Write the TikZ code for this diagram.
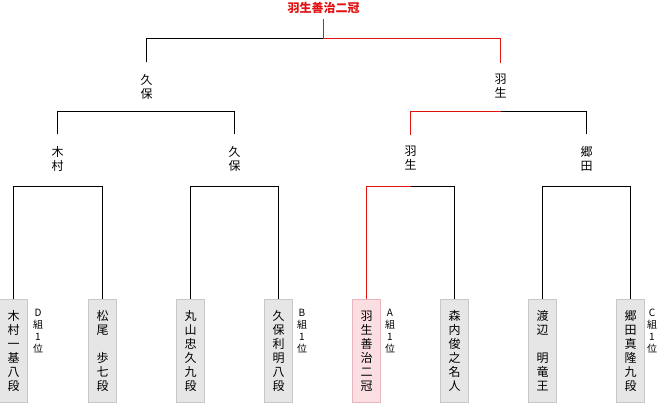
\documentclass[tikz,border=0pt]{standalone}
\usepackage{fontspec}
\setmainfont{Noto Sans CJK JP}
\usepackage{tikz}
\definecolor{winred}{RGB}{226,18,18}
\definecolor{boxgray}{RGB}{230,230,230}
\definecolor{boxline}{RGB}{200,200,200}
\definecolor{boxpink}{RGB}{250,222,225}
\definecolor{pinkline}{RGB}{232,182,188}

% stack the characters of #1 one under another
\makeatletter
\newcommand\tate[1]{\tate@first#1\relax}
\def\tate@first#1{#1\tate@rest}
\def\tate@rest#1{\ifx#1\relax\else\\#1\expandafter\tate@rest\fi}
\makeatother

\tikzset{
  leafbox/.style={draw=boxline, fill=boxgray, line width=0.75pt, anchor=north,
    minimum width=21pt, minimum height=77.25pt, inner sep=0pt, align=center,
    font=\fontsize{9}{10.5}\selectfont},
  champbox/.style={leafbox, draw=pinkline, fill=boxpink},
  winner/.style={align=center, inner xsep=0pt, inner ysep=8.5pt,
    font=\fontsize{9}{10.5}\selectfont},
  rankbox/.style={anchor=north, align=center, inner sep=0pt,
    font=\fontsize{7.5}{9}\selectfont},
  bracket/.style={line width=0.75pt},
}

\begin{document}
\begin{tikzpicture}[x=0.75pt, y=-0.75pt]
  \useasboundingbox (0,0) rectangle (660,403);

  % Players
  \foreach \n/\xx/\sty/\who in {
    1/13.5/leafbox/木村一基八段,
    2/102.5/leafbox/松尾　歩七段,
    3/190.5/leafbox/丸山忠久九段,
    4/278.5/leafbox/久保利明八段,
    5/366.5/champbox/羽生善治二冠,
    6/454.5/leafbox/森内俊之名人,
    7/542.5/leafbox/渡辺　明竜王,
    8/630.5/leafbox/郷田真隆九段
  }{
    \node[\sty] (leaf\n) at (\xx,299) {\expandafter\tate\expandafter{\who}};
  }

  % Group ranks
  \foreach \g/\xx in {D/38, B/302, A/390, C/652}{
    \node[rankbox] (rank\g) at (\xx,309) {\expandafter\tate\expandafter{\g 組1位}};
  }

  % Winners
  \node[winner] (kimura) at (57.5,158.5) {\tate{木村}};
  \node[winner] (kuboQ) at (234.5,158.5) {\tate{久保}};
  \node[winner] (habuQ) at (410.5,158.5) {\tate{羽生}};
  \node[winner] (goda) at (586.5,158.5) {\tate{郷田}};
  \node[winner] (kuboS) at (146.5,86.5) {\tate{久保}};
  \node[winner] (habuS) at (500.5,86.5) {\tate{羽生}};
  \node[text=winred, font=\bfseries\fontsize{9}{10.5}\selectfont,
    inner ysep=4pt] (champ) at (323.5,8) {羽生善治二冠};

  % Junctions
  \coordinate (q1) at (57.5,186.5);
  \coordinate (q2) at (234.5,186.5);
  \coordinate (q3) at (410.5,186.5);
  \coordinate (q4) at (586.5,186.5);
  \coordinate (semiL) at (146.5,111.5);
  \coordinate (semiR) at (500.5,111.5);
  \coordinate (final) at (323.5,38.5);

  % Brackets
  \draw[bracket] (leaf1.north) |- (q1) -| (leaf2.north);
  \draw[bracket] (leaf3.north) |- (q2) -| (leaf4.north);
  \draw[bracket, winred] (leaf5.north) |- (q3);
  \draw[bracket] (q3) -| (leaf6.north);
  \draw[bracket] (leaf7.north) |- (q4) -| (leaf8.north);
  \draw[bracket] (kimura.north) |- (semiL) -| (kuboQ.north);
  \draw[bracket, winred] (habuQ.north) |- (semiR);
  \draw[bracket] (semiR) -| (goda.north);
  \draw[bracket] (kuboS.north) |- (final);
  \draw[bracket, winred] (champ.south) -- (final) -| (habuS.north);
\end{tikzpicture}
\end{document}
